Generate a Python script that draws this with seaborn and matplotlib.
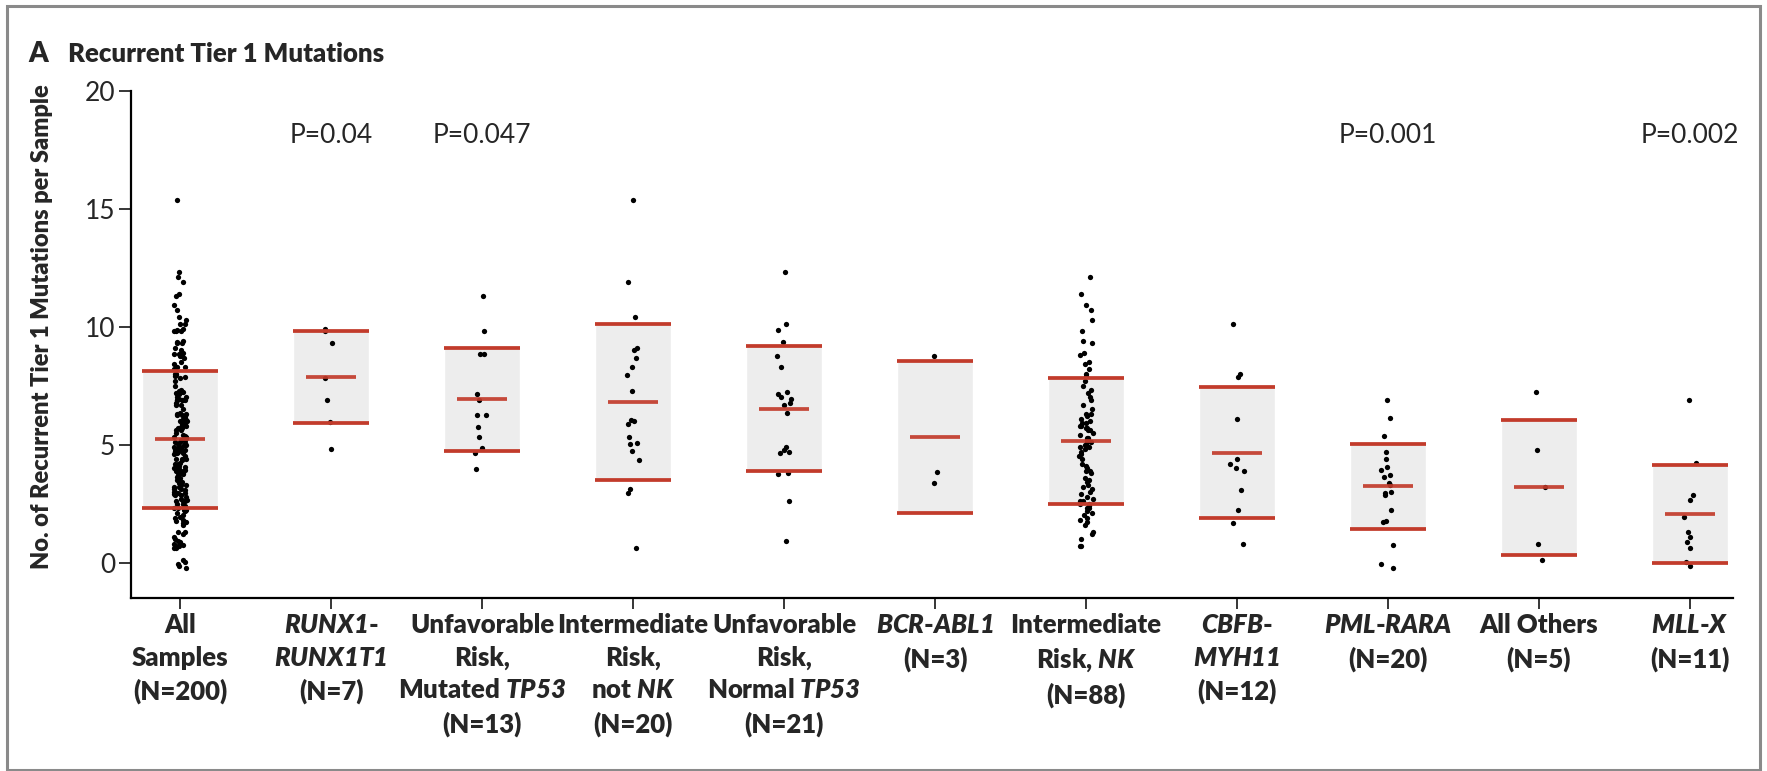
import numpy as np
import pandas as pd
import matplotlib
matplotlib.use('Agg')
import matplotlib.pyplot as plt
import seaborn as sns
from matplotlib.patches import Rectangle

FUENTE = 'Lato'

sns.set_style('white')
plt.rcParams['font.family'] = [FUENTE, 'DejaVu Sans']
# lo que va entre $...$ sale en negrita cursiva (nombres de genes)
plt.rcParams['mathtext.fontset'] = 'custom'
plt.rcParams['mathtext.it'] = FUENTE + ':italic:heavy'
plt.rcParams['mathtext.rm'] = FUENTE + ':italic:heavy'
plt.rcParams['mathtext.bf'] = FUENTE + ':italic:heavy'

# Etiquetas de categorias
etiquetas = [
    "All\nSamples\n(N=200)",
    "$RUNX1$-\n$RUNX1T1$\n(N=7)",
    "Unfavorable\nRisk,\nMutated $TP53$\n(N=13)",
    "Intermediate\nRisk,\nnot $NK$\n(N=20)",
    "Unfavorable\nRisk,\nNormal $TP53$\n(N=21)",
    "$BCR$-$ABL1$\n(N=3)",
    "Intermediate\nRisk, $NK$\n(N=88)",
    "$CBFB$-\n$MYH11$\n(N=12)",
    "$PML$-$RARA$\n(N=20)",
    "All Others\n(N=5)",
    "$MLL$-$X$\n(N=11)",
]
grupos = ['all', 'runx1', 'unfav_tp53', 'int_notnk', 'unfav_normal', 'bcr',
          'int_nk', 'cbfb', 'pml', 'others', 'mll']

# Valores (mutaciones por muestra, con jitter vertical)
runx1 = [9.83, 9.9, 9.32, 7.81, 6.91, 5.97, 4.80]
unfav_tp53 = [11.31, 9.82, 8.86, 8.86, 7.16, 6.9, 6.24, 6.24, 5.76, 5.33, 4.87, 4.63, 3.98]
int_notnk = [15.38, 11.89, 10.40, 9.08, 9.01, 8.67, 8.28, 7.94, 7.29, 6.05,
             6.00, 5.88, 5.31, 5.06, 5.03, 4.72, 4.34, 3.11, 2.94, 0.61]
unfav_normal = [12.30, 10.11, 9.85, 9.34, 8.76, 8.28, 7.22, 7.14, 7.03, 6.94, 6.75,
                6.68, 6.33, 4.89, 4.78, 4.70, 4.63, 3.81, 3.76, 2.61, 0.92]
bcr = [8.77, 3.86, 3.36]
int_nk = [12.1, 11.4, 10.9, 10.7, 10.3, 9.8, 9.4, 9.3, 8.9, 8.8, 8.5, 8.4, 8.2, 8.0,
          7.9, 7.7, 7.5, 7.3, 7.2, 7.0, 6.9, 6.7, 6.5, 6.3, 6.3, 6.2, 6.1, 6.0, 5.9,
          5.9, 5.8, 5.8, 5.7, 5.7, 5.6, 5.6, 5.5, 5.4, 5.3, 5.3, 5.2, 5.2, 5.1, 5.1,
          5.0, 5.0, 4.9, 4.9, 4.8, 4.7, 4.6, 4.5, 4.4, 4.2, 4.1, 4.0, 3.9, 3.9, 3.8,
          3.6, 3.5, 3.4, 3.3, 3.2, 3.1, 3.0, 2.9, 2.8, 2.7, 2.6, 2.6, 2.5, 2.5, 2.4,
          2.3, 2.3, 2.2, 2.1, 2.0, 1.9, 1.8, 1.7, 1.6, 1.3, 1.2, 1.0, 0.7, 0.7]
cbfb = [10.11, 8.00, 7.86, 6.08, 4.38, 4.18, 4.03, 3.90, 3.09, 2.23, 1.67, 0.79]
pml = [6.89, 6.12, 5.37, 4.70, 4.38, 4.07, 3.93, 3.72, 3.62, 3.36, 3.29, 3.01,
       2.94, 2.87, 2.23, 1.78, 1.74, 0.75, -0.06, -0.24]
others = [7.22, 4.79, 3.19, 0.79, 0.10]
mll = [6.91, 4.24, 2.86, 2.66, 1.95, 1.31, 1.08, 0.89, 0.61, 0.04, -0.14]
# "All Samples" son las 200 muestras de todos los subgrupos juntas
all_samples = runx1 + unfav_tp53 + int_notnk + unfav_normal + bcr + int_nk + cbfb + pml + others + mll

# Lineas rojas leidas: media, limite inferior y superior
linea_media = [5.24, 7.86, 6.92, 6.81, 6.51, 5.33, 5.16, 4.66, 3.24, 3.19, 2.08]
linea_inf = [2.33, 5.91, 4.75, 3.49, 3.87, 2.11, 2.49, 1.88, 1.43, 0.31, 0.0]
linea_sup = [8.14, 9.83, 9.11, 10.13, 9.17, 8.56, 7.84, 7.44, 5.04, 6.05, 4.15]

p_grupos = [1, 2, 8, 10]
p_textos = ['P=0.04', 'P=0.047', 'P=0.001', 'P=0.002']

valores = [all_samples, runx1, unfav_tp53, int_notnk, unfav_normal, bcr,
           int_nk, cbfb, pml, others, mll]
df = pd.DataFrame({'grupo': np.repeat(grupos, [len(v) for v in valores]),
                   'valor': np.concatenate(valores)})

ROJO = '#C23B2B'

fig = plt.figure(figsize=(17.67, 7.71), dpi=100)
ax = fig.add_axes([0.07414, 0.22438, 0.90662, 0.65798])

x = np.arange(len(grupos))
ax.bar(x, np.array(linea_sup) - np.array(linea_inf), bottom=linea_inf, width=0.5,
       color='#EDEDED', zorder=1)

np.random.seed(3)
sns.stripplot(data=df, x='grupo', y='valor', order=grupos, jitter=0.045,
              color='black', size=3.8, linewidth=0, ax=ax, zorder=2)

ax.hlines(linea_sup, x - 0.25, x + 0.25, color=ROJO, lw=2.7, zorder=3)
ax.hlines(linea_inf, x - 0.25, x + 0.25, color=ROJO, lw=2.7, zorder=3)
ax.hlines(linea_media, x - 0.165, x + 0.165, color=ROJO, lw=2.7, alpha=0.92, zorder=3)

for g, t in zip(p_grupos, p_textos):
    ax.text(g, 18.1, t, ha='center', va='center', fontsize=19)

ax.set_xlim(-0.325, 10.285)
ax.set_ylim(-1.5, 20)
ax.set_yticks([0, 5, 10, 15, 20])
ax.set_xticks(x)
ax.set_xticklabels(etiquetas, va='top')
ax.tick_params(axis='y', labelsize=19, length=8.5, width=1.3, pad=3, direction='out', left=True)
ax.tick_params(axis='x', length=8, width=1.3, pad=3, direction='out', bottom=True)
plt.setp(ax.get_xticklabels(), fontsize=18.5, fontweight='heavy', linespacing=1.42)
for s in ['top', 'right']:
    ax.spines[s].set_visible(False)
for s in ['left', 'bottom']:
    ax.spines[s].set_linewidth(1.6)
    ax.spines[s].set_color('black')

ax.set_xlabel('')
ax.set_ylabel('No. of Recurrent Tier 1 Mutations per Sample', fontsize=17, fontweight='heavy')
ax.yaxis.set_label_coords(-0.049, 0.534)

fig.text(28 / 1767, 1 - 54 / 771, 'A', fontsize=20, fontweight='heavy', va='center')
fig.text(68 / 1767, 1 - 54 / 771, 'Recurrent Tier 1 Mutations', fontsize=18.5,
         fontweight='heavy', va='center')

# marco gris alrededor de la figura
fig.patches.append(Rectangle((0.004, 0.001), 0.992, 0.991, transform=fig.transFigure,
                             fill=False, edgecolor='#8a8a8a', lw=2.2))

fig.savefig('out.png', dpi=100)
